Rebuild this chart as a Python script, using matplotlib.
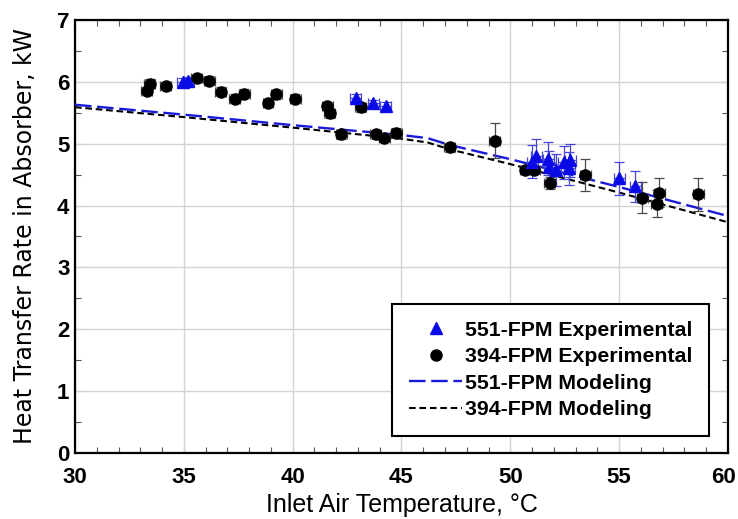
import matplotlib
matplotlib.use("Agg")
import matplotlib.pyplot as plt
from matplotlib.ticker import MultipleLocator
from matplotlib.transforms import ScaledTranslation

# Experimental data, 551-FPM absorber
t551 = [34.95, 35.2, 42.9, 43.7, 44.27,
        51.0, 51.2, 51.75, 51.8, 52.1, 52.45, 52.75, 52.7, 55.0, 55.75]
q551 = [6.00, 6.02, 5.74, 5.65, 5.61,
        4.71, 4.80, 4.76, 4.62, 4.57, 4.70, 4.73, 4.60, 4.44, 4.31]
e551 = [0.06, 0.06, 0.07, 0.06, 0.06,
        0.27, 0.28, 0.27, 0.26, 0.26, 0.27, 0.27, 0.26, 0.27, 0.25]

# Experimental data, 394-FPM absorber
t394 = [33.30, 33.44, 34.16, 35.6, 36.18, 36.70, 37.34, 37.77, 38.87, 39.25,
        40.12, 41.59, 41.71, 42.23, 43.12, 43.81, 44.22, 44.77, 47.22, 49.28,
        50.69, 51.1, 51.82, 53.45, 56.07, 56.73, 56.85, 58.64]
q394 = [5.85, 5.97, 5.93, 6.06, 6.02, 5.84, 5.73, 5.81, 5.66, 5.80,
        5.73, 5.61, 5.49, 5.15, 5.59, 5.15, 5.09, 5.18, 4.94, 5.05,
        4.58, 4.57, 4.36, 4.50, 4.13, 4.03, 4.21, 4.18]
e394 = [0.07, 0.07, 0.07, 0.07, 0.07, 0.07, 0.07, 0.07, 0.07, 0.07,
        0.07, 0.07, 0.07, 0.07, 0.07, 0.07, 0.07, 0.07, 0.07, 0.28,
        0.06, 0.06, 0.10, 0.26, 0.25, 0.22, 0.24, 0.27]
t_err = 0.25

# Model predictions
t_model = [30, 35, 40, 45, 46.2, 47.2, 50, 55, 60]
q551_model = [5.63, 5.47, 5.30, 5.14, 5.09, 4.98, 4.75, 4.30, 3.83]
q394_model = [5.59, 5.43, 5.26, 5.08, 5.02, 4.91, 4.67, 4.21, 3.73]

labels = ["551-FPM Experimental", "394-FPM Experimental",
          "551-FPM Modeling", "394-FPM Modeling"]

plt.rcParams["font.family"] = ["Liberation Sans", "DejaVu Sans"]

fig = plt.figure(figsize=(7.38, 5.19), dpi=100)
ax = fig.add_axes([0.1016, 0.1272, 0.8848, 0.8343])

ax.set_xlim(30, 60)
ax.set_ylim(0, 7)
ax.xaxis.set_major_locator(MultipleLocator(5))
ax.xaxis.set_minor_locator(MultipleLocator(1))
ax.yaxis.set_major_locator(MultipleLocator(1))
ax.yaxis.set_minor_locator(MultipleLocator(0.5))
ax.grid(True, which="major", color="#d4d4d4", linewidth=1.0)
ax.set_axisbelow(True)

ax.tick_params(which="both", direction="in", top=True, right=True,
               colors="black")
ax.tick_params(which="major", length=5, width=1.0, color="#d4d4d4")
ax.tick_params(which="minor", length=4, width=0.8, color="#555555")
ax.tick_params(axis="x", which="major", pad=10)
ax.tick_params(axis="y", which="major", pad=4)

for sp in ax.spines.values():
    sp.set_linewidth(1.6)
    sp.set_color("black")

# Model curves
ax.plot(t_model, q551_model, color="#1a1ad8", linewidth=1.7,
        dashes=(7, 2.4), label=labels[2], zorder=3)
ax.plot(t_model, q394_model, color="black", linewidth=1.5,
        dashes=(3.2, 1.8), label=labels[3], zorder=3)

# Error bars
ax.errorbar(t394, q394, yerr=e394, xerr=t_err, fmt="none", ecolor="#4a4a4a",
            elinewidth=0.9, capsize=3.5, capthick=0.9, zorder=4)
ax.errorbar(t551, q551, yerr=e551, xerr=t_err, fmt="none", ecolor="#4848d8",
            elinewidth=0.9, capsize=3.5, capthick=0.9, zorder=4)

# Measured points
ax.plot(t394, q394, linestyle="none", marker="o", markersize=8,
        color="black", label=labels[1], zorder=5)
ax.plot(t551, q551, linestyle="none", marker="^", markersize=8,
        color="#0a0ae6", label=labels[0], zorder=6)

handles, labs = ax.get_legend_handles_labels()
order = [labs.index(l) for l in labels]
leg = ax.legend([handles[i] for i in order], [labs[i] for i in order],
                loc="lower right", bbox_to_anchor=(0.971, 0.039),
                borderaxespad=0, frameon=True, fancybox=False,
                edgecolor="black", framealpha=1, numpoints=1,
                handlelength=2.5, handletextpad=0.12, labelspacing=0.35,
                borderpad=0.8, prop={"weight": "bold", "size": 15.3})
leg.get_frame().set_linewidth(1.5)

ax.set_xlabel("Inlet Air Temperature, \u00b0C", fontsize=18, labelpad=4)
ax.set_ylabel("Heat Transfer Rate in Absorber, kW", fontsize=17,
              family=["DejaVu Sans"], labelpad=14)

fig.canvas.draw()
for tick in ax.xaxis.get_major_ticks() + ax.yaxis.get_major_ticks():
    tick.label1.set_fontsize(16)
    tick.label1.set_fontweight("bold")
# keep the right-most x tick label inside the canvas
for tick in ax.xaxis.get_major_ticks():
    if abs(tick.get_loc() - 60) < 1e-9:
        tick.label1.set_transform(
            tick.label1.get_transform()
            + ScaledTranslation(-3 / 72, 0, fig.dpi_scale_trans))

fig.savefig("out.png", dpi=100)
